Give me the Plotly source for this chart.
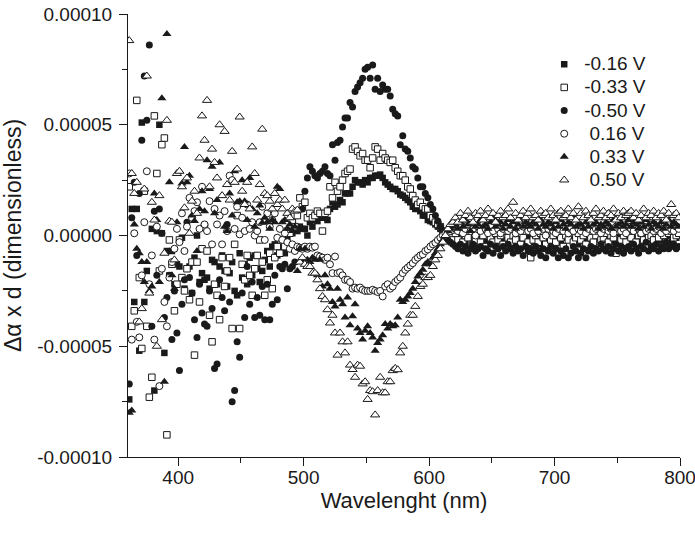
import plotly.graph_objects as go

# Wavelength grid (nm), 2 nm sampling from 361 to 799
wavelength = list(range(361, 800, 2))

# Values in units of 1e-5 (dimensionless)
UNIT = 1e-5

m016 = [
    -7.4, 1.2, -3.0, 1.2, -5.2, 5.1, -3.0, -1.6, -4.1, 0.3,
    -7.0, 0.2, 5.0, 0.1, -5.3, -0.7, -1.8, -0.7, -2.2, -1.3,
    -1.4, -0.1, -2.4, -1.5, -1.4, -2.6, -1.0, 0.0, -2.1, -1.7,
    -2.0, -1.9, -2.4, -1.1, -1.2, -2.2, -1.4, -0.9, -1.6, -2.3,
    -1.7, -1.2, -2.5, -2.7, -0.8, -1.9, -1.3, -2.2, -1.0, -1.8,
    -0.9, -1.5, -2.1, -1.6, -1.1, -0.7, -1.4, -0.5, -0.4, -0.9,
    -0.6, -0.3, -0.8, -0.2, -0.4, 0.1, 0.3, 0.2, 0.4, 0.3,
    0.3, 0.0, 0.6, 0.4, 0.7, 0.65, 0.9, 0.8, 1.0, 0.7,
    1.2, 1.5, 1.3, 1.4, 1.6, 1.5, 1.9, 1.9, 1.9, 2.2,
    2.5, 2.4, 2.4, 2.3, 2.5, 2.4, 2.6, 2.6, 2.7, 2.7,
    2.75, 2.6, 2.4, 2.3, 2.2, 2.1, 2.1, 2.0, 1.85, 1.8,
    1.7, 1.6, 1.5, 1.3, 1.2, 1.2, 1.1, 0.9, 0.9, 0.7,
    0.65, 0.6, 0.5, 0.4, 0.3, 0.2, 0.2, 0.1, 0.0, -0.1,
    -0.1, 0.0, -0.2, 0.1, -0.3, -0.1, 0.0, -0.2, -0.4, -0.1,
    0.0, -0.2, -0.3, 0.1, -0.1, -0.2, -0.4, 0.0, -0.1, -0.3,
    -0.2, 0.0, -0.1, -0.3, -0.2, 0.1, -0.1, -0.4, -0.2, 0.0,
    -0.3, -0.1, -0.2, 0.0, -0.4, -0.2, -0.1, -0.3, 0.0, -0.2,
    -0.1, -0.3, -0.2, -0.5, -0.1, 0.0, -0.2, -0.3, -0.1, -0.4,
    -0.2, 0.0, -0.3, -0.1, -0.2, -0.4, 0.0, -0.1, -0.3, -0.2,
    0.0, -0.2, -0.1, -0.3, 0.1, -0.2, -0.1, 0.0, -0.3, -0.1,
    -0.2, 0.0, -0.1, -0.3, 0.1, -0.2, 0.0, -0.1, -0.2, 0.1,
    -0.1, 0.0, -0.2, 0.1, -0.1, -0.3, 0.0, 0.1, -0.1, 0.0,
]

m033 = [
    2.2, -4.1, -3.4, 6.1, -1.9, -5.1, 2.0, -4.1, -7.3, -6.4,
    5.4, 2.8, -1.6, 4.1, 4.4, -9.0, -0.2, -1.3, -3.4, -2.2,
    -0.2, -1.9, -2.5, -1.5, -2.9, -1.2, -5.4, -1.2, -3.0, -0.6,
    0.4, -0.7, -3.6, -4.8, -2.2, -2.7, -3.8, -1.0, -2.3, -1.6,
    -1.0, -4.2, -0.4, 0.9, -4.2, -1.3, -2.0, -0.9, -1.8, -2.7,
    -1.5, -0.9, -0.2, -1.2, -2.7, -2.0, -0.8, -2.4, -1.0, -0.5,
    -0.8, -0.2, -0.5, 0.2, 0.1, 0.6, 0.4, 0.9, 1.7, 1.3,
    1.5, 0.8, 1.0, 0.8, 0.9, 1.1, 1.0, 0.2, 1.0, 1.1,
    2.2, 1.7, 2.4, 2.0, 2.2, 2.5, 2.8, 2.9, 3.0, 3.9,
    4.0, 3.8, 3.6, 3.7, 3.4, 3.4, 3.06, 3.5, 4.0, 3.9,
    3.4, 3.7, 3.5, 3.4, 3.3, 3.4, 3.06, 2.9, 2.7, 2.7,
    2.5, 2.2, 2.1, 1.8, 1.6, 1.4, 1.5, 1.3, 1.2, 1.2,
    0.9, 0.8, 0.6, 0.5, 0.4, 0.2, 0.1, 0.0, -0.1, -0.2,
    0.1, -0.2, 0.2, -0.3, 0.0, -0.1, 0.3, -0.4, -0.2, 0.1,
    -0.3, 0.0, -0.5, 0.2, -0.1, -0.3, 0.1, -0.2, 0.0, -0.4,
    0.2, -0.1, -0.3, 0.0, -0.2, 0.1, -0.4, -0.1, 0.2, -0.3,
    -1.0, -0.2, 0.0, -0.3, 0.1, -0.1, -0.4, 0.2, -0.2, 0.0,
    -0.3, 0.1, -0.1, -0.5, 0.0, -0.2, 0.2, -0.3, -0.1, 0.1,
    -0.2, 0.0, -0.4, 0.1, -0.1, -0.3, 0.0, 0.2, -0.2, -0.1,
    0.1, -0.3, 0.0, -0.1, -0.8, 0.2, -0.2, 0.0, -0.3, 0.1,
    -0.1, 0.2, -0.3, 0.0, 0.1, -0.2, 0.3, -0.1, 0.0, -0.2,
    0.1, -0.1, 0.2, 0.0, -0.3, 0.1, 0.2, -0.1, 0.0, 0.1,
]

m050 = [
    -6.7, 0.8, 2.4, -0.9, 1.9, 4.3, 7.2, 5.2, 8.6, -4.1,
    1.1, -1.8, 1.2, 0.1, -3.7, -2.8, -1.8, -4.7, -2.5, -4.4,
    -6.1, -3.1, -2.0, 0.6, -1.9, -2.6, -3.8, -4.6, -2.2, -3.5,
    -4.0, -4.1, -2.5, -3.3, -6.0, -5.8, -2.0, -2.8, -3.4, 0.5,
    -3.0, -7.5, -7.0, -4.8, -5.5, -2.6, -3.7, -1.4, -3.1, -2.1,
    -3.7, -2.8, -3.6, -2.3, -3.8, -2.2, -3.8, -3.1, -1.8, -2.9,
    -1.4, -1.5, -1.3, -2.4, -1.5, -1.4, -1.2, -0.6, 0.3, 1.2,
    2.0, 2.6, 3.1, 2.9, 2.7, 2.6, 2.8, 2.9, 3.1, 2.8,
    2.7, 4.1, 3.4, 4.2, 4.3, 4.9, 5.3, 5.3, 6.0, 5.8,
    6.5, 6.7, 6.9, 7.1, 7.5, 7.6, 7.1, 7.7, 6.6, 7.1,
    6.5, 6.8, 6.6, 6.6, 6.3, 5.7, 5.5, 5.4, 4.1, 4.5,
    3.9, 3.8, 3.5, 3.1, 3.0, 2.6, 2.2, 2.2, 1.9, 1.7,
    1.4, 1.2, 0.9, 0.65, 0.4, 0.2, 0.0, -0.2, -0.3, -0.4,
    -0.5, -0.6, -0.4, -0.7, -0.5, -0.8, -0.6, -0.4, -0.7, -0.6,
    -0.5, -0.9, -0.6, -0.7, -0.4, -0.8, -0.5, -0.6, -0.9, -0.5,
    -0.7, -0.4, -0.6, -0.8, -0.5, -0.7, -0.6, -0.9, -0.5, -0.7,
    -0.6, -0.8, -0.5, -0.7, -0.9, -0.6, -1.0, -0.7, -0.5, -0.8,
    -0.6, -1.0, -0.7, -0.9, -0.6, -1.0, -0.8, -0.5, -0.7, -1.0,
    -0.8, -0.6, -1.0, -0.7, -0.5, -0.8, -0.6, -0.7, -0.4, -0.6,
    -0.7, -0.5, -0.8, -0.6, -0.4, -0.7, -0.5, -0.8, -0.6, -0.5,
    -0.7, -0.4, -0.6, -0.8, -0.5, -0.6, -0.3, -0.7, -0.5, -0.6,
    -0.4, -0.7, -0.5, -0.6, -0.3, -0.6, -0.5, -0.4, -0.6, -0.5,
]

p016 = [
    2.8, -4.7, 0.1, -3.9, -4.6, -1.8, 0.6, 2.9, -2.2, -0.9,
    -4.7, 0.4, -6.8, -1.5, -3.0, -4.1, -1.9, -1.2, -0.6, 0.3,
    -0.3, 1.0, -0.7, 0.4, 1.7, 0.8, 1.1, 1.5, 0.3, 2.2,
    0.5, 0.2, 1.55, -0.4, 1.2, 0.5, 0.9, -0.4, 1.1, 0.2,
    2.7, 2.5, 0.3, 1.3, 0.05, 0.8, 0.2, 1.4, 0.3, 0.6,
    0.0, 0.2, 0.6, 1.3, -0.2, 1.0, 0.4, 0.7, 1.0, -0.1,
    0.3, -0.2, 0.1, -0.3, -0.6, -0.4, -0.7, -0.5, -0.55, -0.6,
    -0.5, -0.6, -0.5, -0.55, -0.5, -0.9, -0.95, -1.0, -1.1, -1.0,
    -1.3, -1.7, -0.95, -1.7, -1.66, -1.8, -2.0, -2.0, -2.1, -2.4,
    -2.35, -2.4, -2.35, -2.45, -2.5, -2.5, -2.5, -2.45, -2.5, -2.55,
    -2.5, -2.75, -2.3, -2.2, -2.4, -2.3, -2.1, -2.0, -1.9, -1.7,
    -1.55, -1.45, -1.35, -1.25, -1.1, -1.0, -0.9, -0.85, -0.7, -0.63,
    -0.5, -0.4, -0.33, -0.2, -0.1, 0.0, 0.1, 0.15, 0.2, 0.25,
    0.3, 0.2, 0.4, 0.1, 0.3, 0.5, 0.2, 0.3, 0.0, 0.4,
    0.2, 0.5, 0.3, 0.1, 0.4, 0.2, 0.6, 0.3, 0.1, 0.3,
    0.4, 0.2, 0.3, 0.5, 0.1, 0.3, 0.2, 0.4, 0.6, 0.2,
    0.3, 0.1, 0.4, 0.2, 0.5, 0.3, 0.0, 0.3, 0.4, 0.2,
    0.1, 0.3, 0.5, 0.2, 0.4, 0.1, 0.3, 0.2, 0.5, 0.3,
    0.2, 0.4, 0.1, 0.3, 0.5, 0.2, 0.3, 0.4, 0.1, 0.3,
    0.4, 0.2, 0.3, 0.1, 0.4, 0.5, 0.2, 0.3, 0.1, 0.4,
    0.3, 0.2, 0.5, 0.3, 0.1, 0.4, 0.2, 0.3, 0.5, 0.2,
    0.3, 0.4, 0.1, 0.3, 0.2, 0.5, 0.3, 0.2, 0.4, 0.3,
]

p033 = [
    -8.0, -7.9, 0.5, -0.6, -0.8, -1.2, -2.1, -1.2, -2.5, -2.3,
    1.9, 0.7, -2.1, 6.2, -6.6, 9.1, 2.4, -1.8, -2.4, 0.6,
    2.9, 2.35, 4.0, 2.4, 2.7, 0.9, 0.65, -0.7, 1.2, 2.0,
    1.1, 3.4, 2.1, 3.1, 1.0, 1.6, 3.3, 1.8, 0.4, 0.2,
    1.9, 0.9, 2.9, 1.5, 1.55, 2.5, 1.55, 0.7, 2.6, 1.2,
    0.4, 1.0, 1.35, 0.57, 0.8, 0.6, 0.3, 0.7, 0.6, 2.2,
    2.1, 0.6, 0.7, 0.3, 0.5, 0.2, 0.4, -1.6, -0.6, -1.2,
    -0.6, -1.1, -1.2, -1.0, -1.1, -1.8, -1.1, -2.3, -1.8, -2.2,
    -2.4, -3.0, -3.2, -2.4, -2.9, -3.1, -3.7, -2.8, -4.05, -3.65,
    -3.1, -4.2, -4.4, -4.7, -4.3, -4.1, -4.4, -4.6, -5.2, -4.85,
    -4.7, -4.5, -4.0, -4.2, -4.0, -4.1, -4.05, -3.7, -2.9, -3.0,
    -2.9, -2.75, -2.6, -2.4, -2.1, -1.85, -1.7, -1.55, -1.3, -1.2,
    -1.3, -1.0, -0.8, -0.6, -0.4, -0.2, 0.0, 0.2, 0.3, 0.4,
    0.5, 0.3, 0.6, 0.4, 0.7, 0.5, 0.2, 0.6, 0.4, 0.5,
    0.7, 0.4, 0.5, 0.3, 0.6, 0.8, 0.4, 0.5, 0.6, 0.3,
    0.5, 0.7, 0.4, 0.6, 0.3, 0.5, 0.8, 0.4, 0.6, 0.5,
    0.4, 0.6, 0.5, 0.3, 0.7, 0.5, 0.4, 0.6, 0.5, 0.3,
    0.6, 0.4, 0.7, 0.5, 0.3, 0.6, 0.5, 0.8, 0.4, 0.5,
    0.5, 0.3, 0.6, 0.4, 0.7, 0.5, 0.6, 0.3, 0.5, 0.4,
    0.6, 0.5, 0.3, 0.7, 0.4, 0.5, 0.6, 0.4, 0.5, 0.7,
    0.4, 0.6, 0.5, 0.3, 0.6, 0.4, 0.7, 0.5, 0.3, 0.6,
    0.5, 0.4, 0.6, 0.3, 0.5, 0.7, 0.4, 0.6, 0.5, 0.4,
]

p050 = [
    8.8, 2.8, 1.9, 2.4, -3.9, -3.3, 2.1, 7.2, -2.6, 1.5,
    0.7, -5.0, 1.8, -3.8, -0.8, 5.2, 0.65, 0.6, -1.1, 2.8,
    2.9, 2.2, 1.25, 2.6, 0.1, 1.55, 2.0, 1.0, 3.5, 5.4,
    4.3, 6.1, 2.2, 3.9, 3.3, 2.6, 5.0, 1.8, 4.7, 2.3,
    1.6, 3.8, 2.4, 3.0, 5.35, 2.0, 1.4, 2.4, 1.2, 4.0,
    2.8, 1.6, 2.3, 4.8, 1.9, 1.8, 1.55, 1.2, 1.9, 1.4,
    1.6, 1.2, 1.6, 1.0, 0.8, 1.2, 1.1, 1.15, -1.2, -1.0,
    -1.3, -1.4, -1.4, -1.7, -1.7, -2.0, -2.4, -2.75, -2.9, -3.35,
    -3.95, -3.6, -4.4, -5.4, -4.4, -4.8, -5.3, -4.8, -5.85, -6.05,
    -6.4, -5.85, -5.9, -6.7, -6.6, -7.4, -7.0, -7.05, -8.1, -7.0,
    -6.4, -7.1, -7.1, -6.6, -6.6, -6.1, -6.0, -6.06, -5.3, -5.0,
    -4.4, -4.0, -3.6, -3.6, -3.2, -2.75, -2.3, -2.2, -1.9, -1.9,
    -1.8, -1.4, -1.1, -0.9, -0.6, -0.3, 0.0, 0.3, 0.5, 0.6,
    0.8, 0.6, 1.0, 0.7, 0.9, 1.1, 0.8, 0.6, 1.0, 0.9,
    1.1, 0.7, 0.9, 1.2, 0.8, 1.0, 0.6, 0.9, 1.1, 0.8,
    0.9, 1.2, 0.8, 1.5, 1.0, 0.7, 0.9, 1.1, 0.8, 1.0,
    1.2, 0.8, 0.9, 0.7, 1.1, 0.9, 1.0, 0.8, 1.2, 0.9,
    0.7, 1.0, 1.1, 0.8, 0.9, 1.2, 0.8, 1.0, 0.7, 1.3,
    1.0, 0.8, 1.1, 0.9, 0.7, 1.0, 1.2, 0.8, 0.9, 1.1,
    0.8, 1.0, 0.9, 1.2, 0.7, 1.0, 0.8, 1.1, 0.9, 1.0,
    1.1, 0.8, 1.0, 0.7, 0.9, 1.2, 0.8, 1.0, 0.9, 1.1,
    0.8, 1.0, 0.9, 1.1, 0.7, 1.0, 1.4, 0.9, 1.0, 0.8,
]

series_names = ["-0.16 V", "-0.33 V", "-0.50 V", "\u00a00.16 V", "\u00a00.33 V", "\u00a00.50 V"]
series_values = [m016, m033, m050, p016, p033, p050]
series_symbols = ["square", "square", "circle", "circle", "triangle-up", "triangle-up"]
series_filled = [True, False, True, False, True, False]
series_sizes = [6.5, 6.5, 7, 7, 8, 8]

x_ticks = [400, 500, 600, 700, 800]
y_ticks = [-0.0001, -0.00005, 0.0, 0.00005, 0.0001]
y_ticklabels = ["-0.00010", "-0.00005", "0.00000", "0.00005", "0.00010"]

FONT = "Liberation Sans, Arial, Helvetica, sans-serif"
INK = "#1a1a1a"
LEGEND_TEXT_PX = 19

fig = go.Figure()
for name, vals, sym, filled, sz in zip(series_names, series_values, series_symbols,
                                       series_filled, series_sizes):
    fig.add_trace(go.Scatter(
        x=wavelength,
        y=[v * UNIT for v in vals],
        mode="markers",
        name=f"<span style='font-size:{LEGEND_TEXT_PX}px'>{name}</span>",
        marker=dict(
            symbol=sym,
            size=sz,
            color=INK if filled else "white",
            line=dict(color=INK, width=0 if filled else 1),
        ),
    ))

fig.update_layout(
    width=695, height=534,
    margin=dict(l=128, r=15, t=14, b=77),
    paper_bgcolor="white", plot_bgcolor="white",
    font=dict(family=FONT, size=18, color=INK),
    showlegend=True,
    legend=dict(
        x=0.754, y=0.924, xanchor="left", yanchor="top",
        bgcolor="rgba(0,0,0,0)", borderwidth=0,
        font=dict(family=FONT, size=15.5, color=INK),
        itemsizing="trace",
    ),
    xaxis=dict(
        range=[360, 800], tickvals=x_ticks, ticks="outside", ticklen=8,
        tickwidth=1, tickcolor=INK, showline=True, linecolor=INK, linewidth=1,
        showgrid=False, zeroline=False, mirror=False, automargin=False,
        ticklabelstandoff=-5, ticklabeloverflow="allow",
        minor=dict(dtick=50, tick0=0, ticks="outside", ticklen=5, tickcolor=INK, showgrid=False),
        title=dict(text="Wavelenght (nm)", font=dict(size=22, family=FONT, color=INK), standoff=4),
        tickfont=dict(size=19, family=FONT, color=INK),
    ),
    yaxis=dict(
        range=[-0.0001, 0.0001], tickvals=y_ticks, ticktext=y_ticklabels,
        ticks="outside", ticklen=8, tickwidth=1, tickcolor=INK,
        showline=True, linecolor=INK, linewidth=1,
        showgrid=False, zeroline=False, mirror=False, automargin=False,
        ticklabelstandoff=3, ticklabeloverflow="allow",
        minor=dict(dtick=0.000025, tick0=0, ticks="outside", ticklen=5, tickcolor=INK, showgrid=False),
        title=dict(text="Δα x d (dimensionless)", font=dict(size=23, family=FONT, color=INK), standoff=9),
        tickfont=dict(size=19, family=FONT, color=INK),
    ),
)

fig.write_html(
    "out.html",
    config={"displayModeBar": False},
    post_script="document.body.style.margin='0';",
)
